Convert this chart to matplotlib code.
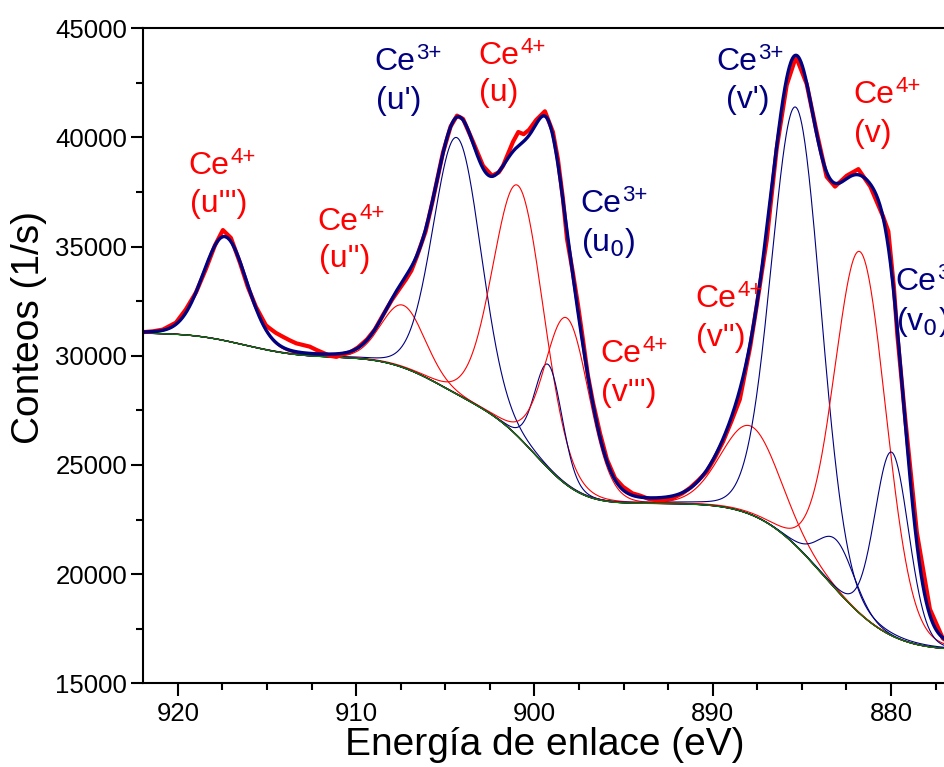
import math
import numpy as np
import matplotlib
matplotlib.use("Agg")
import matplotlib.pyplot as plt
from matplotlib.ticker import MultipleLocator

plt.rcParams['font.family'] = ['Liberation Sans', 'DejaVu Sans']
plt.rcParams.update({
    'xtick.major.size': 9, 'ytick.major.size': 9,
    'xtick.minor.size': 5, 'ytick.minor.size': 5,
    'xtick.major.width': 1.5, 'ytick.major.width': 1.5,
    'xtick.minor.width': 1.5, 'ytick.minor.width': 1.5,
    'xtick.major.pad': 4.5, 'ytick.major.pad': 2.5,
    'xtick.direction': 'out', 'ytick.direction': 'out',
    'xtick.labelsize': 18.5, 'ytick.labelsize': 18.5,
    'axes.linewidth': 1.5,
})

# measured Ce 3d spectrum (binding energy in eV, counts per second)
energy = [922.0, 921.4, 920.84, 920.1, 919.55, 918.98, 918.42, 917.92, 917.47, 917.02,
          916.52, 916.07, 915.62, 915.06, 914.85, 914.5, 914.1, 913.7, 913.35, 913.0,
          912.6, 912.2, 911.86, 911.47, 911.1, 910.74, 910.35, 909.9, 909.39, 908.95,
          908.5, 908.0, 907.54, 907.2, 906.9, 906.59, 906.1, 905.69, 905.13, 904.7,
          904.34, 904.0, 903.44, 902.88, 902.38, 902.0, 901.76, 901.2, 900.9, 900.6,
          900.3, 899.9, 899.41, 898.96, 898.68, 898.4, 898.17, 897.84, 897.55, 897.27,
          897.0, 896.71, 896.32, 895.93, 895.48, 895.03, 894.5, 894.08, 893.6, 893.13,
          892.7, 892.23, 891.7, 891.27, 890.8, 890.33, 889.9, 889.43, 888.95, 888.48,
          887.9, 887.53, 886.97, 886.41, 885.85, 885.33, 884.73, 884.17, 883.61, 883.14,
          882.48, 881.83, 881.16, 880.43, 880.15, 879.84, 879.65, 879.2, 878.55, 877.82,
          877.09, 876.86]
counts = [31080, 31120, 31200, 31520, 32120, 32900, 33980, 35050, 35760, 35400,
          34280, 33150, 32250, 31400, 31260, 31050, 30870, 30700, 30570, 30500,
          30420, 30260, 30140, 30000, 29950, 30080, 30150, 30380, 30750, 31200,
          31850, 32550, 33100, 33500, 33900, 34550, 35700, 37150, 39300, 40500,
          41000, 40850, 39800, 38700, 38250, 38400, 38700, 39800, 40250, 40150,
          40350, 40800, 41200, 40250, 39000, 37200, 35350, 33800, 32300, 30700,
          29100, 27850, 26450, 25250, 24400, 24000, 23700, 23600, 23450, 23380,
          23400, 23480, 23700, 23950, 24300, 24700, 25300, 26050, 27000, 28000,
          30400, 32300, 35300, 39500, 42400, 43700, 42450, 40250, 38200, 37750,
          38250, 38550, 37750, 36350, 35700, 33150, 31000, 27100, 21900, 18400,
          17050, 16950]

# fitted components: label, oxidation state, position (eV), FWHM (eV), height (counts)
peak_label = ["u'''", "u''", "u'", "u", "u$_0$", "v'''", "v''", "v'", "", "v", "v$_0$"]
peak_state = [4, 4, 3, 4, 3, 4, 4, 3, 3, 4, 3]
peak_pos = [917.35, 907.36, 904.33, 900.89, 899.20, 898.16, 887.87, 885.31, 883.04, 881.71, 879.96]
peak_fwhm = [2.89, 2.87, 3.17, 3.34, 1.81, 2.92, 3.86, 3.25, 2.40, 3.40, 2.24]
peak_height = [4731, 2859, 11758, 11506, 4767, 7656, 4058, 20091, 2283, 16589, 8406]
lorentz_frac = 0.074

# background: low-energy level plus smoothed steps
bg_base = 16524
step_pos = [916.22, 905.32, 899.83, 883.72]
step_width = [2.35, 2.33, 1.96, 2.90]
step_height = [1108, 2494, 4202, 6711]

E = np.linspace(876, 923, 1881)
erf = np.vectorize(math.erf)

bg = np.full_like(E, bg_base, dtype=float)
for c, w, h in zip(step_pos, step_width, step_height):
    bg += h * 0.5 * (1 + erf((E - c) / (np.sqrt(2) * w)))

comps = []
for c, f, h in zip(peak_pos, peak_fwhm, peak_height):
    x = (E - c) / f
    shape = (1 - lorentz_frac) * np.exp(-4 * np.log(2) * x ** 2) + lorentz_frac / (1 + 4 * x ** 2)
    comps.append(h * shape)
envelope = bg + np.sum(comps, axis=0)

red = '#ff0000'
navy = '#000080'
state_color = {3: navy, 4: red}

fig = plt.figure(figsize=(9.45, 7.67), dpi=100)
ax = fig.add_axes([143 / 945, 1 - 683.3 / 767, 804 / 945, 655 / 767])

for comp, st in zip(comps, peak_state):
    ax.plot(E, bg + comp, color=state_color[st], lw=0.8)
ax.plot(E, bg, color='#008000', lw=0.9)
ax.plot(energy, counts, color=red, lw=3.0, solid_joinstyle='round')
ax.plot(E, envelope, color=navy, lw=2.4)

ax.set_xlim(921.95, 876.86)
ax.set_ylim(15000, 45000)
ax.xaxis.set_major_locator(MultipleLocator(10))
ax.xaxis.set_minor_locator(MultipleLocator(2.5))
ax.yaxis.set_major_locator(MultipleLocator(5000))
ax.yaxis.set_minor_locator(MultipleLocator(2500))
ax.tick_params(top=False, right=False)

# peak labels: (component index, line 1 position, line 2 position)
labels = [
    (0, (919.40, 38326), (919.34, 36585)),
    (1, (912.16, 35761), (912.10, 34066)),
    (2, (908.96, 43089), (908.91, 41303)),
    (3, (903.13, 43364), (903.13, 41669)),
    (4, (897.41, 36585), (897.41, 34799)),
    (5, (896.29, 29716), (896.29, 27929)),
    (6, (890.96, 32235), (890.96, 30449)),
    (7, (889.79, 43089), (889.28, 41349)),
    (9, (882.10, 41578), (882.10, 39791)),
    (10, (879.74, 33015), (879.74, 31183)),
]
for k, p1, p2 in labels:
    st = peak_state[k]
    col = state_color[st]
    ce = ax.text(p1[0], p1[1], 'Ce', color=col, fontsize=23, ha='left', va='baseline')
    ax.annotate('%d+' % st, xy=(1, 1), xycoords=ce, xytext=(0.5, 3), textcoords='offset points',
                color=col, fontsize=16, ha='left', va='top')
    ax.text(p2[0], p2[1], '(%s)' % peak_label[k], color=col, fontsize=23, ha='left', va='baseline')

fig.text(29 / 945, 1 - 327.5 / 767, 'Conteos (1/s)', rotation=90, ha='center', va='center', fontsize=28)
fig.text(545 / 945, 1 - 755 / 767, 'Energía de enlace (eV)', ha='center', va='baseline', fontsize=28)

fig.savefig("out.png", dpi=100)
